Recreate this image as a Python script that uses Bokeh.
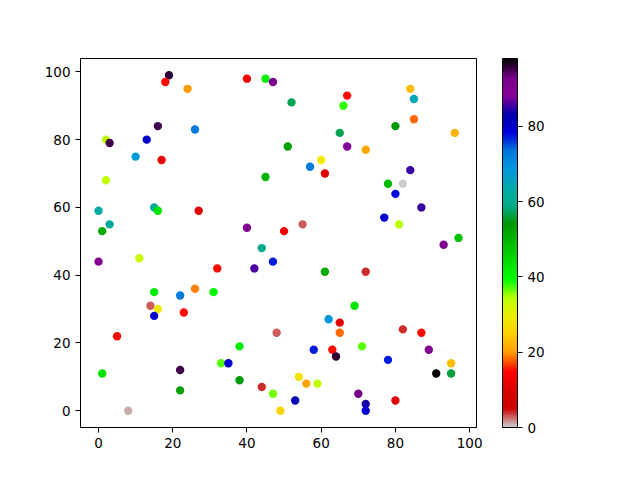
import numpy as np
from bokeh.plotting import figure
from bokeh.models import (ColumnDataSource, LinearColorMapper, ColorBar,
                          FixedTicker, Range1d)
from bokeh.embed import file_html
from bokeh.resources import INLINE

# ---- data ----
xs = [19, 18, 24, 40, 45, 47, 52, 67, 66, 84,
      85, 85, 80, 65, 96, 51, 67, 72, 60, 57,
      61, 84, 78, 82, 80, 87, 77, 81, 50, 55,
      93, 97, 16, 26, 13, 2, 3, 10, 17, 2,
      45, 0, 15, 16, 27, 3, 1, 40, 0, 11,
      44, 47, 32, 42, 15, 26, 31, 22, 14, 16,
      15, 23, 48, 5, 38, 33, 35, 22, 1, 38,
      44, 22, 47, 8, 49, 61, 72, 69, 62, 65,
      65, 82, 87, 58, 63, 71, 64, 89, 78, 95,
      91, 95, 54, 56, 59, 70, 53, 72, 72, 80]
ys = [99, 97, 95, 98, 98, 97, 91, 93, 90, 95,
      92, 86, 84, 82, 82, 78, 78, 77, 74, 72,
      70, 71, 67, 67, 64, 60, 57, 55, 53, 55,
      49, 51, 84, 83, 80, 80, 79, 75, 74, 68,
      69, 59, 60, 59, 59, 55, 53, 54, 44, 45,
      48, 44, 42, 42, 35, 36, 35, 34, 31, 30,
      28, 29, 23, 22, 19, 14, 14, 12, 11, 9,
      7, 6, 5, 0, 0, 41, 41, 31, 27, 26,
      23, 24, 23, 18, 18, 19, 16, 18, 15, 14,
      11, 11, 10, 8, 8, 5, 3, 2, 0, 3]
cs = [96, 15, 20, 14, 41, 91, 57, 15, 38, 23,
      65, 18, 54, 57, 22, 53, 88, 21, 29, 73,
      10, 85, 49, 0, 78, 85, 80, 34, 12, 3,
      91, 48, 95, 73, 80, 34, 95, 68, 11, 34,
      50, 63, 61, 43, 11, 62, 51, 91, 90, 33,
      59, 77, 15, 86, 42, 19, 40, 73, 3, 29,
      79, 15, 3, 15, 42, 37, 79, 95, 43, 54,
      4, 53, 36, 1, 26, 51, 4, 43, 69, 11,
      18, 4, 15, 77, 15, 37, 96, 90, 77, 23,
      98, 56, 28, 21, 34, 93, 82, 84, 79, 11]
cbar_ticks = [0, 20, 40, 60, 80]
x_ticks = [0, 20, 40, 60, 80, 100]
y_ticks = [0, 20, 40, 60, 80, 100]

# ---- nipy_spectral colormap (reversed) ----
_seg = {
    'red': [(0.0, 0.0), (0.05, 0.4667), (0.10, 0.5333), (0.15, 0.0), (0.20, 0.0),
            (0.25, 0.0), (0.30, 0.0), (0.35, 0.0), (0.40, 0.0), (0.45, 0.0),
            (0.50, 0.0), (0.55, 0.0), (0.60, 0.0), (0.65, 0.7333), (0.70, 0.9333),
            (0.75, 1.0), (0.80, 1.0), (0.85, 1.0), (0.90, 0.8667), (0.95, 0.80),
            (1.0, 0.8)],
    'green': [(0.0, 0.0), (0.05, 0.0), (0.10, 0.0), (0.15, 0.0), (0.20, 0.0),
              (0.25, 0.4667), (0.30, 0.6), (0.35, 0.6667), (0.40, 0.6667), (0.45, 0.6),
              (0.50, 0.7333), (0.55, 0.8667), (0.60, 1.0), (0.65, 1.0), (0.70, 0.9333),
              (0.75, 0.8), (0.80, 0.6), (0.85, 0.0), (0.90, 0.0), (0.95, 0.0),
              (1.0, 0.8)],
    'blue': [(0.0, 0.0), (0.05, 0.5333), (0.10, 0.6), (0.15, 0.6667), (0.20, 0.8667),
             (0.25, 0.8667), (0.30, 0.8667), (0.35, 0.6667), (0.40, 0.5333), (0.45, 0.0),
             (0.5, 0.0), (0.55, 0.0), (0.60, 0.0), (0.65, 0.0), (0.70, 0.0),
             (0.75, 0.0), (0.80, 0.0), (0.85, 0.0), (0.90, 0.0), (0.95, 0.0),
             (1.0, 0.8)],
}
t = np.linspace(0, 1, 256)
chan = {}
for k, pts in _seg.items():
    px = [a for a, _ in pts]
    py = [b for _, b in pts]
    chan[k] = np.interp(t, px, py)
palette = ["#%02x%02x%02x" % (int(round(r * 255)), int(round(g * 255)), int(round(b * 255)))
           for r, g, b in zip(chan['red'], chan['green'], chan['blue'])]
palette = palette[::-1]  # nipy_spectral_r

mapper = LinearColorMapper(palette=palette, low=min(cs), high=max(cs))

src = ColumnDataSource(dict(x=xs, y=ys, c=cs))

p = figure(frame_width=396, frame_height=369,
           x_range=Range1d(-4.85, 101.85), y_range=Range1d(-4.95, 103.95),
           output_backend="svg", toolbar_location=None,
           min_border_left=80, min_border_top=58, min_border_right=10,
           min_border_bottom=10)

p.scatter('x', 'y', source=src, size=8.4, line_color=None,
          fill_color={'field': 'c', 'transform': mapper})

p.grid.visible = False
p.outline_line_color = 'black'
p.outline_line_width = 1
p.background_fill_color = 'white'
p.border_fill_color = 'white'

for ax, tk in ((p.xaxis, x_ticks), (p.yaxis, y_ticks)):
    ax.ticker = FixedTicker(ticks=tk)
    ax.major_tick_out = 5
    ax.major_tick_in = 0
    ax.minor_tick_line_color = None
    ax.axis_line_color = 'black'
    ax.major_tick_line_color = 'black'
    ax.major_label_text_font = "DejaVu Sans"
    ax.major_label_text_font_size = "13.5px"
    ax.major_label_text_color = "black"
    ax.major_label_standoff = 5

cb = ColorBar(color_mapper=mapper, ticker=FixedTicker(ticks=cbar_ticks),
              width=15, height=369, padding=0, margin=0,
              bar_line_color='black', bar_line_width=1,
              major_tick_out=5, major_tick_in=0,
              major_tick_line_color='black', minor_tick_line_color=None,
              label_standoff=5, major_label_text_font="DejaVu Sans",
              major_label_text_font_size="13.5px",
              major_label_text_color="black",
              background_fill_color=None, border_line_color=None,
              location=(26, 0))
p.add_layout(cb, 'right')

open("out.html", "w").write(file_html(p, INLINE))
